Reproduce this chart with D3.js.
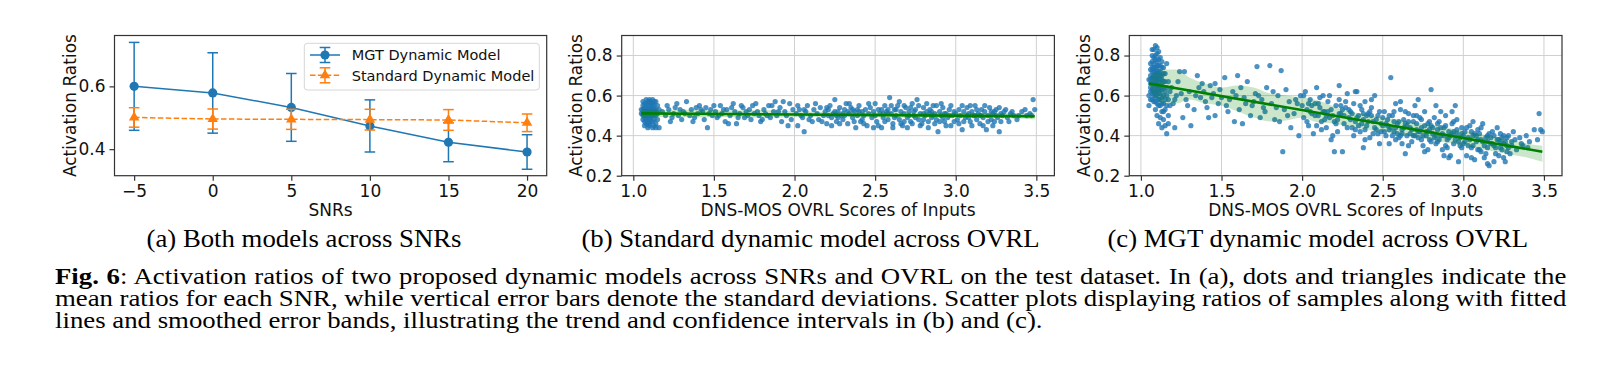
<!DOCTYPE html>
<html><head><meta charset="utf-8">
<script src="https://cdn.jsdelivr.net/npm/d3@7"></script>
<style>body{margin:0;background:#fff}svg{display:block}</style>
</head><body>
<svg id="fig" width="1621" height="380"></svg>
<script>
// ---------- data ----------
const snrs = [-5, 0, 5, 10, 15, 20];
const snrTickLabels = ["\u22125", "0", "5", "10", "15", "20"];
const mgtMean = [0.600, 0.579, 0.533, 0.474, 0.422, 0.391];
const mgtStd  = [0.140, 0.128, 0.108, 0.083, 0.062, 0.055];
const stdMean = [0.501, 0.496, 0.495, 0.494, 0.493, 0.484];
const stdStd  = [0.031, 0.032, 0.032, 0.033, 0.033, 0.028];
const seriesNames = ["MGT Dynamic Model", "Standard Dynamic Model"];
const aYTicks = [0.4, 0.6];
const ovrlTicks = [1.0, 1.5, 2.0, 2.5, 3.0, 3.5];
const ratioTicks = [0.2, 0.4, 0.6, 0.8];

// panel (b): standard dynamic model samples [OVRL, ratio]
const scatterB = [
[1.05,0.53],[1.06,0.50],[1.06,0.55],[1.07,0.47],[1.07,0.52],[1.07,0.56],[1.08,0.49],[1.08,0.51],[1.08,0.54],[1.08,0.46],
[1.09,0.53],[1.09,0.50],[1.09,0.57],[1.09,0.48],[1.10,0.52],[1.10,0.55],[1.10,0.45],[1.10,0.50],[1.10,0.58],[1.11,0.49],
[1.11,0.53],[1.11,0.56],[1.11,0.47],[1.12,0.51],[1.12,0.54],[1.12,0.44],[1.12,0.50],[1.13,0.52],[1.13,0.48],[1.13,0.55],
[1.14,0.50],[1.14,0.53],[1.14,0.46],[1.06,0.51],[1.07,0.54],[1.08,0.52],[1.09,0.55],[1.10,0.48],[1.11,0.51],[1.12,0.52],
[1.13,0.50],[1.08,0.56],[1.09,0.46],[1.10,0.53],[1.11,0.54],[1.12,0.47],[1.07,0.49],[1.06,0.48],[1.05,0.51],[1.15,0.51],
[1.15,0.55],[1.16,0.44],[1.09,0.52],[1.10,0.51],[1.11,0.50],[1.10,0.57],[1.12,0.56],[1.08,0.48],[1.13,0.45],[1.14,0.57],
[1.06,0.57],[1.07,0.45],[1.08,0.58],[1.09,0.44],[1.10,0.46],[1.11,0.57],[1.12,0.58],[1.13,0.57],[1.14,0.44],[1.07,0.51],
[1.09,0.51],[1.11,0.52],[1.13,0.53],[1.06,0.53],[1.08,0.50],[1.10,0.49],[1.12,0.53],[1.14,0.52],[1.15,0.48],[1.16,0.53],
[1.18,0.52],[1.20,0.50],[1.21,0.55],[1.23,0.47],[1.25,0.51],[1.26,0.54],[1.28,0.50],[1.29,0.53],[1.31,0.52],[1.33,0.57],
[1.35,0.50],[1.36,0.53],[1.38,0.49],[1.40,0.51],[1.41,0.55],[1.43,0.52],[1.44,0.48],[1.45,0.54],[1.46,0.44],[1.47,0.51],
[1.48,0.53],[1.49,0.50],[1.30,0.48],[1.22,0.53],[1.39,0.54],
[1.24,0.49],[1.27,0.56],[1.32,0.51],[1.37,0.47],[1.42,0.53],[1.50,0.55],[1.56,0.53],[1.59,0.46],[1.62,0.56],[1.65,0.49],
[1.68,0.54],[1.71,0.50],[1.74,0.55],[1.77,0.52],[1.80,0.48],[1.83,0.50],[1.86,0.55],[1.90,0.52],[1.93,0.57],[1.96,0.45],
[1.51,0.52],[1.52,0.49],[1.54,0.55],[1.55,0.51],[1.57,0.47],[1.58,0.53],[1.60,0.50],[1.61,0.54],[1.63,0.52],[1.64,0.46],
[1.66,0.51],[1.67,0.55],[1.69,0.49],[1.70,0.52],[1.72,0.53],[1.73,0.48],[1.75,0.51],[1.76,0.56],[1.78,0.50],[1.79,0.47],
[1.81,0.53],[1.82,0.51],[1.84,0.55],[1.85,0.49],[1.87,0.52],[1.88,0.57],[1.89,0.50],[1.91,0.54],[1.92,0.47],[1.94,0.52],
[1.95,0.50],[1.97,0.56],[1.98,0.48],[1.99,0.53],[1.53,0.50],
[2.01,0.51],[2.02,0.45],[2.03,0.53],[2.05,0.49],[2.06,0.42],[2.07,0.52],[2.08,0.55],[2.10,0.50],[2.11,0.47],[2.12,0.53],
[2.14,0.51],[2.15,0.48],[2.16,0.54],[2.18,0.50],[2.19,0.52],[2.20,0.46],[2.21,0.53],[2.22,0.55],[2.23,0.49],[2.24,0.51],
[2.25,0.58],[2.26,0.47],[2.27,0.52],[2.28,0.54],[2.29,0.50],[2.30,0.48],[2.31,0.53],[2.32,0.56],[2.33,0.46],[2.34,0.51],
[2.35,0.54],[2.36,0.49],[2.37,0.52],[2.38,0.44],[2.39,0.50],[2.40,0.55],[2.41,0.47],[2.42,0.52],[2.43,0.50],[2.44,0.53],
[2.45,0.45],[2.46,0.51],[2.47,0.54],[2.48,0.49],[2.49,0.52],[2.30,0.51],[2.36,0.53],[2.42,0.48],[2.26,0.50],[2.33,0.52],
[2.02,0.55],[2.04,0.50],[2.06,0.53],[2.09,0.48],[2.13,0.56],[2.17,0.47],[2.20,0.54],[2.23,0.45],[2.25,0.52],[2.28,0.46],
[2.31,0.50],[2.34,0.56],[2.37,0.47],[2.40,0.52],[2.43,0.46],[2.46,0.56],[2.49,0.44],[2.21,0.50],[2.27,0.49],[2.39,0.53],
[2.50,0.50],[2.51,0.47],[2.52,0.53],[2.53,0.51],[2.54,0.44],[2.55,0.49],[2.56,0.55],[2.57,0.52],[2.58,0.48],[2.59,0.59],
[2.60,0.51],[2.61,0.46],[2.62,0.53],[2.63,0.50],[2.64,0.55],[2.65,0.48],[2.66,0.52],[2.67,0.45],[2.68,0.51],[2.69,0.54],
[2.70,0.49],[2.71,0.52],[2.72,0.47],[2.73,0.56],[2.74,0.50],[2.75,0.53],[2.76,0.58],[2.77,0.48],[2.78,0.51],[2.79,0.46],
[2.80,0.54],[2.81,0.50],[2.82,0.52],[2.83,0.47],[2.84,0.53],[2.85,0.49],[2.86,0.55],[2.87,0.51],[2.88,0.48],[2.89,0.42],
[2.90,0.52],[2.91,0.50],[2.92,0.54],[2.93,0.47],[2.94,0.51],[2.95,0.49],[2.96,0.53],[2.97,0.45],[2.98,0.50],[2.99,0.52],
[2.55,0.51],[2.62,0.49],[2.68,0.47],[2.74,0.52],[2.80,0.48],[2.86,0.50],[2.92,0.49],[2.58,0.53],[2.71,0.50],[2.84,0.51],
[2.50,0.56],[2.52,0.45],[2.54,0.53],[2.56,0.47],[2.58,0.51],[2.60,0.55],[2.61,0.44],[2.63,0.53],[2.65,0.57],[2.66,0.46],
[2.68,0.55],[2.70,0.44],[2.72,0.54],[2.73,0.46],[2.75,0.49],[2.77,0.55],[2.78,0.45],[2.80,0.51],[2.82,0.56],[2.83,0.44],
[2.85,0.52],[2.87,0.46],[2.88,0.55],[2.90,0.47],[2.91,0.56],[2.93,0.51],[2.94,0.45],[2.96,0.50],[2.97,0.55],[2.99,0.47],
[3.01,0.48],[3.02,0.53],[3.03,0.50],[3.04,0.43],[3.05,0.52],[3.06,0.49],[3.07,0.54],[3.08,0.51],[3.09,0.47],[3.10,0.52],
[3.11,0.50],[3.12,0.55],[3.13,0.48],[3.14,0.51],[3.15,0.46],[3.16,0.53],[3.17,0.49],[3.18,0.52],[3.19,0.43],[3.20,0.50],
[3.21,0.54],[3.22,0.48],[3.23,0.51],[3.24,0.47],[3.25,0.53],[3.26,0.49],[3.27,0.42],[3.28,0.51],[3.29,0.50],[3.30,0.52],
[3.32,0.49],[3.34,0.51],[3.36,0.50],[3.38,0.48],[3.41,0.52],[3.44,0.50],[3.46,0.51],[3.48,0.58],[3.49,0.53],[3.08,0.49],
[3.16,0.50],[3.24,0.52],
[3.00,0.51],[3.02,0.46],[3.04,0.55],[3.05,0.47],[3.07,0.50],[3.09,0.55],[3.10,0.45],[3.12,0.50],[3.13,0.53],[3.15,0.50],
[3.17,0.45],[3.18,0.55],[3.20,0.47],[3.22,0.52],[3.23,0.45],[3.25,0.50],[3.27,0.54],[3.28,0.47],[3.31,0.53],[3.33,0.47],
[3.35,0.52],[3.39,0.50],[3.43,0.53],[3.47,0.50]
];
const fitB = [[1.05,0.511],[3.49,0.497]];
const bandBX  = [1.05,1.20,1.40,1.60,1.80,2.00,2.20,2.40,2.60,2.80,3.00,3.20,3.40,3.49];
const bandBHi = [0.535,0.527,0.530,0.525,0.528,0.522,0.519,0.518,0.517,0.515,0.514,0.513,0.512,0.515];
const bandBLo = [0.488,0.493,0.490,0.493,0.489,0.492,0.494,0.493,0.491,0.490,0.489,0.488,0.485,0.480];

// panel (c): MGT dynamic model samples [OVRL, ratio]
const scatterC = [
[1.05,0.55],[1.06,0.62],[1.06,0.70],[1.06,0.58],[1.07,0.66],[1.07,0.74],[1.07,0.61],[1.07,0.80],[1.08,0.68],[1.08,0.83],
[1.08,0.57],[1.08,0.64],[1.08,0.76],[1.09,0.71],[1.09,0.62],[1.09,0.85],[1.09,0.53],[1.09,0.67],[1.09,0.78],[1.10,0.60],
[1.10,0.73],[1.10,0.66],[1.10,0.81],[1.10,0.50],[1.10,0.69],[1.11,0.63],[1.11,0.75],[1.11,0.58],[1.11,0.70],[1.11,0.46],
[1.12,0.65],[1.12,0.72],[1.12,0.55],[1.12,0.61],[1.12,0.79],[1.13,0.68],[1.13,0.52],[1.13,0.74],[1.13,0.59],[1.13,0.44],
[1.14,0.64],[1.14,0.71],[1.14,0.56],[1.14,0.48],[1.15,0.62],[1.15,0.67],[1.15,0.45],[1.15,0.53],[1.16,0.60],[1.16,0.41],
[1.16,0.76],[1.17,0.58],[1.17,0.50],[1.06,0.66],[1.07,0.69],[1.08,0.72],[1.09,0.74],[1.10,0.63],[1.11,0.67],[1.12,0.68],
[1.08,0.60],[1.09,0.59],[1.10,0.77],[1.11,0.82],[1.07,0.77],[1.08,0.79],[1.06,0.73],[1.13,0.63],[1.14,0.60],[1.10,0.56],
[1.12,0.49],[1.09,0.65],[1.11,0.61],[1.13,0.70],
[1.05,0.60],[1.05,0.68],[1.06,0.76],[1.06,0.64],[1.07,0.72],[1.07,0.58],[1.07,0.83],[1.08,0.66],[1.08,0.74],[1.08,0.70],
[1.09,0.69],[1.09,0.80],[1.09,0.57],[1.09,0.72],[1.10,0.71],[1.10,0.65],[1.10,0.75],[1.10,0.84],[1.11,0.65],[1.11,0.72],
[1.11,0.78],[1.11,0.55],[1.12,0.63],[1.12,0.75],[1.12,0.58],[1.13,0.66],[1.13,0.77],[1.13,0.56],[1.14,0.67],[1.14,0.74],
[1.14,0.52],[1.15,0.58],[1.15,0.71],[1.16,0.64],[1.16,0.55],[1.17,0.67],[1.17,0.46],[1.18,0.62],[1.18,0.55],[1.07,0.63],
[1.08,0.62],[1.09,0.61],[1.10,0.68],[1.12,0.70],[1.06,0.68],
[1.19,0.64],[1.20,0.56],[1.21,0.44],[1.22,0.60],[1.23,0.67],[1.24,0.72],[1.25,0.61],[1.26,0.49],[1.27,0.72],[1.28,0.58],
[1.30,0.62],[1.31,0.45],[1.33,0.53],[1.35,0.70],[1.36,0.64],[1.37,0.59],[1.39,0.62],[1.40,0.57],[1.42,0.49],[1.43,0.65],
[1.45,0.61],[1.46,0.50],[1.48,0.56],[1.50,0.59],[1.52,0.69],[1.53,0.55],[1.55,0.58],[1.57,0.62],[1.58,0.47],[1.60,0.70],
[1.61,0.53],[1.63,0.46],[1.64,0.59],[1.66,0.67],[1.68,0.50],[1.69,0.55],[1.71,0.61],[1.72,0.745],[1.74,0.49],[1.75,0.58],
[1.77,0.52],[1.78,0.64],[1.80,0.75],[1.81,0.56],[1.83,0.48],[1.85,0.60],[1.87,0.725],[1.88,0.32],[1.89,0.53],[1.90,0.63],
[1.92,0.57],[1.93,0.44],[1.95,0.51],[1.97,0.56],[1.98,0.40],[1.99,0.60],[1.62,0.64],[1.70,0.57],[1.84,0.54],[1.46,0.66],
[1.21,0.58],[1.29,0.55],[1.34,0.60],[1.38,0.66],[1.41,0.54],[1.44,0.59],[1.49,0.63],[1.54,0.52],[1.59,0.60],[1.65,0.56],
[1.73,0.60],[1.76,0.54],[1.82,0.62],[1.86,0.47],[1.91,0.50],[1.96,0.58],
[2.00,0.55],[2.01,0.49],[2.02,0.62],[2.03,0.53],[2.04,0.45],[2.05,0.58],[2.06,0.51],[2.07,0.41],[2.08,0.56],[2.09,0.64],
[2.10,0.50],[2.11,0.54],[2.12,0.47],[2.13,0.60],[2.14,0.52],[2.15,0.44],[2.16,0.57],[2.17,0.49],[2.18,0.53],[2.19,0.40],
[2.20,0.32],[2.21,0.55],[2.22,0.48],[2.23,0.58],[2.24,0.51],[2.25,0.32],[2.26,0.46],[2.27,0.54],[2.28,0.61],[2.29,0.49],
[2.30,0.52],[2.31,0.44],[2.32,0.56],[2.33,0.47],[2.34,0.62],[2.35,0.50],[2.36,0.42],[2.37,0.53],[2.38,0.48],[2.39,0.57],
[2.40,0.45],[2.41,0.51],[2.42,0.39],[2.43,0.54],[2.44,0.47],[2.45,0.60],[2.46,0.43],[2.47,0.50],[2.48,0.36],[2.49,0.46],
[2.05,0.52],[2.10,0.56],[2.15,0.50],[2.20,0.47],[2.25,0.53],[2.30,0.48],[2.35,0.45],[2.40,0.50],[2.45,0.44],[2.12,0.43],
[2.22,0.42],[2.32,0.40],[2.42,0.52],[2.27,0.57],[2.37,0.46],[2.47,0.41],[2.18,0.38],[2.38,0.34],
[2.01,0.60],[2.03,0.47],[2.04,0.56],[2.06,0.55],[2.08,0.50],[2.09,0.45],[2.11,0.59],[2.13,0.52],[2.14,0.48],[2.16,0.52],
[2.17,0.60],[2.19,0.50],[2.21,0.46],[2.23,0.51],[2.24,0.55],[2.26,0.50],[2.28,0.44],[2.29,0.53],[2.31,0.51],[2.33,0.43],
[2.34,0.49],[2.36,0.55],[2.38,0.51],[2.39,0.43],[2.41,0.47],[2.43,0.50],[2.44,0.41],[2.46,0.48],[2.48,0.52],[2.49,0.42],
[2.23,0.65],[2.43,0.58],[2.33,0.62],[2.39,0.38],
[2.50,0.45],[2.51,0.52],[2.52,0.40],[2.53,0.48],[2.54,0.36],[2.55,0.69],[2.55,0.44],[2.56,0.50],[2.57,0.42],[2.58,0.56],
[2.59,0.46],[2.60,0.39],[2.61,0.53],[2.62,0.43],[2.63,0.48],[2.64,0.31],[2.65,0.45],[2.66,0.51],[2.67,0.41],[2.68,0.37],
[2.69,0.47],[2.70,0.55],[2.71,0.43],[2.72,0.39],[2.73,0.49],[2.74,0.44],[2.75,0.35],[2.76,0.52],[2.77,0.42],[2.78,0.46],
[2.79,0.38],[2.80,0.63],[2.80,0.45],[2.81,0.41],[2.82,0.49],[2.83,0.36],[2.84,0.43],[2.85,0.47],[2.86,0.40],[2.87,0.33],
[2.88,0.44],[2.89,0.50],[2.90,0.38],[2.91,0.42],[2.92,0.30],[2.93,0.46],[2.94,0.36],[2.95,0.55],[2.96,0.41],[2.97,0.27],
[2.98,0.39],[2.99,0.44],[2.52,0.46],[2.57,0.47],[2.62,0.41],[2.67,0.44],[2.72,0.42],[2.77,0.40],[2.82,0.39],[2.87,0.41],
[2.92,0.40],[2.97,0.37],[2.54,0.43],[2.59,0.41],[2.64,0.46],[2.69,0.40],[2.74,0.38],[2.79,0.43],[2.84,0.37],[2.89,0.35],
[2.94,0.42],[2.99,0.34],[2.61,0.57],[2.71,0.50],[2.86,0.52],[2.66,0.35],[2.76,0.32],[2.91,0.29],[2.96,0.48],[2.58,0.38],
[2.50,0.49],[2.51,0.42],[2.53,0.45],[2.54,0.50],[2.56,0.40],[2.57,0.52],[2.58,0.44],[2.60,0.47],[2.61,0.40],[2.63,0.44],
[2.64,0.52],[2.65,0.40],[2.66,0.47],[2.68,0.43],[2.69,0.50],[2.70,0.40],[2.71,0.46],[2.73,0.42],[2.74,0.48],[2.75,0.40],
[2.76,0.45],[2.78,0.42],[2.79,0.47],[2.80,0.37],[2.81,0.44],[2.83,0.40],[2.84,0.46],[2.85,0.38],[2.86,0.44],[2.88,0.40],
[2.89,0.45],[2.90,0.34],[2.91,0.39],[2.93,0.41],[2.94,0.47],[2.95,0.38],[2.96,0.43],[2.98,0.35],[2.99,0.41],[2.72,0.58],
[2.83,0.55],[2.93,0.52],[2.62,0.36],[2.78,0.33],[2.88,0.30],
[3.00,0.36],[3.01,0.42],[3.02,0.30],[3.03,0.39],[3.04,0.45],[3.05,0.34],[3.06,0.40],[3.07,0.28],[3.08,0.37],[3.09,0.43],
[3.10,0.33],[3.11,0.38],[3.12,0.46],[3.13,0.35],[3.14,0.31],[3.15,0.40],[3.16,0.25],[3.17,0.36],[3.18,0.42],[3.19,0.27],
[3.20,0.34],[3.21,0.38],[3.22,0.30],[3.23,0.41],[3.24,0.33],[3.25,0.36],[3.26,0.27],[3.27,0.39],[3.28,0.34],[3.29,0.31],
[3.30,0.37],[3.31,0.42],[3.33,0.33],[3.35,0.39],[3.37,0.35],[3.39,0.40],[3.41,0.37],[3.44,0.43],[3.46,0.38],[3.47,0.51],
[3.48,0.43],[3.49,0.42],[3.03,0.35],[3.07,0.41],[3.11,0.32],[3.15,0.37],[3.19,0.35],[3.23,0.37],[3.27,0.35],[3.06,0.47],
[3.13,0.29],[3.21,0.44],[3.09,0.38],[3.17,0.39],[3.25,0.40],
[3.00,0.40],[3.01,0.37],[3.02,0.44],[3.04,0.38],[3.05,0.42],[3.06,0.35],[3.08,0.40],[3.09,0.33],[3.10,0.41],[3.11,0.44],
[3.12,0.37],[3.14,0.39],[3.15,0.34],[3.16,0.41],[3.18,0.36],[3.19,0.40],[3.20,0.31],[3.22,0.38],[3.23,0.34],[3.24,0.39],
[3.26,0.37],[3.27,0.32],[3.28,0.40],[3.30,0.35],[3.32,0.38],[3.36,0.36],[3.40,0.34],[3.15,0.26],[3.05,0.29],[3.25,0.29]
];
const fitC = [[1.05,0.660],[3.49,0.320]];
const bandCX  = [1.06,1.14,1.22,1.30,1.40,1.50,1.60,1.70,1.80,1.90,2.00,2.10,2.20,2.30,2.40,2.50,2.60,2.70,2.80,2.90,3.00,3.10,3.20,3.30,3.40,3.49];
const bandCHi = [0.700,0.730,0.730,0.690,0.660,0.640,0.650,0.640,0.610,0.600,0.590,0.575,0.545,0.520,0.505,0.490,0.480,0.465,0.455,0.440,0.425,0.410,0.395,0.380,0.360,0.350];
const bandCLo = [0.620,0.560,0.560,0.580,0.560,0.550,0.520,0.490,0.470,0.475,0.490,0.465,0.460,0.445,0.430,0.420,0.405,0.395,0.380,0.365,0.350,0.335,0.320,0.305,0.290,0.270];

const subTitles = ["(a) Both models across SNRs", "(b) Standard dynamic model across OVRL", "(c) MGT dynamic model across OVRL"];
const captionLines = [
  ["Fig. 6", ": Activation ratios of two proposed dynamic models across SNRs and OVRL on the test dataset. In (a), dots and triangles indicate the"],
  ["", "mean ratios for each SNR, while vertical error bars denote the standard deviations. Scatter plots displaying ratios of samples along with fitted"],
  ["", "lines and smoothed error bands, illustrating the trend and confidence intervals in (b) and (c)."]
];

// ---------- drawing ----------
const svg = d3.select("#fig");
const SANS = "'DejaVu Sans', sans-serif";
const SERIF = "'Liberation Serif', 'Times New Roman', serif";
const BLUE = "#1f77b4", ORANGE = "#ff7f0e", GREEN = "#008000";
const FS = 17;
const TOP = 35.5, BOT = 175.7;

function frame(g, x, y, xt, xlab, yt, ylab, grid, xTitle, yTitleX) {
  const [x0, x1] = x.range();
  if (grid) {
    g.append("g").selectAll("line").data(xt).join("line")
      .attr("x1", d => x(d)).attr("x2", d => x(d)).attr("y1", TOP).attr("y2", BOT)
      .attr("stroke", "#d0d0d0").attr("stroke-width", 1);
    g.append("g").selectAll("line").data(yt).join("line")
      .attr("x1", x0).attr("x2", x1).attr("y1", d => y(d)).attr("y2", d => y(d))
      .attr("stroke", "#d0d0d0").attr("stroke-width", 1);
  }
  return function finish() {
    g.append("rect").attr("x", x0).attr("y", TOP).attr("width", x1 - x0).attr("height", BOT - TOP)
      .attr("fill", "none").attr("stroke", "#333").attr("stroke-width", 1.2);
    const xa = d3.axisBottom(x).tickValues(xt).tickFormat((d, i) => xlab[i]).tickSize(5).tickPadding(4);
    const ga = g.append("g").attr("transform", `translate(0,${BOT})`).call(xa);
    const ya = d3.axisLeft(y).tickValues(yt).tickFormat((d, i) => ylab[i]).tickSize(5).tickPadding(4);
    const gy = g.append("g").attr("transform", `translate(${x0},0)`).call(ya);
    [ga, gy].forEach(a => {
      a.select(".domain").remove();
      a.selectAll(".tick line").attr("stroke", "#333").attr("stroke-width", 1.2);
      a.selectAll(".tick text").attr("fill", "#111").style("font-family", SANS).style("font-size", FS + "px");
    });
    g.append("text").attr("x", (x0 + x1) / 2).attr("y", 215.5).attr("text-anchor", "middle")
      .style("font-family", SANS).style("font-size", FS + "px").attr("fill", "#111").text(xTitle);
    g.append("text").attr("transform", `translate(${yTitleX},${(TOP + BOT) / 2}) rotate(-90)`)
      .attr("text-anchor", "middle").attr("dy", "0.36em")
      .style("font-family", SANS).style("font-size", FS + "px").attr("fill", "#111").text("Activation Ratios");
  };
}

// ----- panel (a) -----
const xA = d3.scaleLinear().domain([-6.25, 21.25]).range([114.5, 546.7]);
const yA = d3.scaleLinear().domain([0.3155, 0.762]).range([BOT, TOP]);
const gA = svg.append("g");
const finA = frame(gA, xA, yA, snrs, snrTickLabels, aYTicks, aYTicks.map(d => d.toFixed(1)), false, "SNRs", 69.5);

const CAP = 5.3;
function drawMarker(g, marker, cx, cy, color) {
  if (marker === "circle") {
    g.append("circle").attr("cx", cx).attr("cy", cy).attr("r", 4.6).attr("fill", color);
  } else {
    g.append("path").attr("d", d3.symbol(d3.symbolTriangle, 48)()).attr("transform", `translate(${cx},${cy})`).attr("fill", color);
  }
}
function errSeries(g, means, stds, color, dashed, marker) {
  const pts = snrs.map((s, i) => ({x: s, m: means[i], s: stds[i]}));
  g.append("path").datum(pts)
    .attr("d", d3.line().x(d => xA(d.x)).y(d => yA(d.m)))
    .attr("fill", "none").attr("stroke", color).attr("stroke-width", 1.5)
    .attr("stroke-dasharray", dashed ? "5.5,2.4" : null);
  const eb = g.append("g").attr("stroke", color).attr("stroke-width", 1.5);
  pts.forEach(d => {
    eb.append("line").attr("x1", xA(d.x)).attr("x2", xA(d.x)).attr("y1", yA(d.m - d.s)).attr("y2", yA(d.m + d.s));
    eb.append("line").attr("x1", xA(d.x) - CAP).attr("x2", xA(d.x) + CAP).attr("y1", yA(d.m - d.s)).attr("y2", yA(d.m - d.s));
    eb.append("line").attr("x1", xA(d.x) - CAP).attr("x2", xA(d.x) + CAP).attr("y1", yA(d.m + d.s)).attr("y2", yA(d.m + d.s));
  });
  pts.forEach(d => drawMarker(g, marker, xA(d.x), yA(d.m), color));
}
errSeries(gA, mgtMean, mgtStd, BLUE, false, "circle");
errSeries(gA, stdMean, stdStd, ORANGE, true, "triangle");

// legend
const leg = gA.append("g");
leg.append("rect").attr("x", 304.3).attr("y", 43.3).attr("width", 235).attr("height", 46.7).attr("rx", 3)
  .attr("fill", "#fff").attr("fill-opacity", 0.8).attr("stroke", "#d6d6d6").attr("stroke-width", 1);
[[BLUE, false, "circle", 55], [ORANGE, true, "triangle", 75.3]].forEach((e, i) => {
  const [c, dashed, mk, ly] = e;
  leg.append("line").attr("x1", 310).attr("x2", 340).attr("y1", ly).attr("y2", ly)
    .attr("stroke", c).attr("stroke-width", 1.5).attr("stroke-dasharray", dashed ? "5.5,2.4" : null);
  leg.append("line").attr("x1", 325).attr("x2", 325).attr("y1", ly - 7.5).attr("y2", ly + 7.5).attr("stroke", c).attr("stroke-width", 1.5);
  leg.append("line").attr("x1", 325 - CAP).attr("x2", 325 + CAP).attr("y1", ly - 7.5).attr("y2", ly - 7.5).attr("stroke", c).attr("stroke-width", 1.5);
  leg.append("line").attr("x1", 325 - CAP).attr("x2", 325 + CAP).attr("y1", ly + 7.5).attr("y2", ly + 7.5).attr("stroke", c).attr("stroke-width", 1.5);
  drawMarker(leg, mk, 325, ly, c);
  leg.append("text").attr("x", 351.7).attr("y", ly).attr("dy", "0.36em")
    .style("font-family", SANS).style("font-size", "14.5px").attr("fill", "#111").text(seriesNames[i]);
});
finA();

// ----- panels (b) and (c) -----
const yS = d3.scaleLinear().domain([0.2, 0.9]).range([BOT, TOP]);
function scatterPanel(x, pts, fit, bx, bhi, blo, yTitleX) {
  const g = svg.append("g");
  const fin = frame(g, x, yS, ovrlTicks, ovrlTicks.map(d => d.toFixed(1)), ratioTicks, ratioTicks.map(d => d.toFixed(1)), true,
    "DNS-MOS OVRL Scores of Inputs", yTitleX);
  g.append("g").selectAll("circle").data(pts).join("circle")
    .attr("cx", d => x(d[0])).attr("cy", d => yS(d[1])).attr("r", 2.6)
    .attr("fill", BLUE).attr("fill-opacity", 0.8);
  const band = bx.map((v, i) => ({x: v, hi: bhi[i], lo: blo[i]}));
  g.append("path").datum(band)
    .attr("d", d3.area().curve(d3.curveMonotoneX).x(d => x(d.x)).y0(d => yS(d.lo)).y1(d => yS(d.hi)))
    .attr("fill", GREEN).attr("fill-opacity", 0.2);
  g.append("path").datum(fit)
    .attr("d", d3.line().x(d => x(d[0])).y(d => yS(d[1])))
    .attr("stroke", GREEN).attr("stroke-width", 2.6).attr("fill", "none");
  fin();
}
const xB = d3.scaleLinear().domain([0.928, 3.612]).range([621.7, 1054.4]);
const xC = d3.scaleLinear().domain([0.928, 3.612]).range([1129.3, 1562]);
scatterPanel(xB, scatterB, fitB, bandBX, bandBHi, bandBLo, 576);
scatterPanel(xC, scatterC, fitC, bandCX, bandCHi, bandCLo, 1084);

// ----- sub-captions and caption: glyph height set by font size, width fitted by a horizontal scale -----
function measure(str, fs, bold) {
  const t = svg.append("text").style("font-family", SERIF).style("font-size", fs + "px")
    .attr("font-weight", bold ? "bold" : null).text(str);
  const w = t.node().getComputedTextLength();
  t.remove();
  return w;
}
const SUB_FS = 25, CAP_FS = 23.5;
const subPos = [[146, 462], [582, 1039], [1107, 1528.5]];
const subK = d3.mean(subTitles, (t, i) => (subPos[i][1] - subPos[i][0]) / measure(t, SUB_FS));
subTitles.forEach((t, i) => {
  svg.append("g").attr("transform", `translate(${(subPos[i][0] + subPos[i][1]) / 2},246.5) scale(${subK},1)`)
    .append("text").attr("text-anchor", "middle")
    .style("font-family", SERIF).style("font-size", SUB_FS + "px").attr("fill", "#000").text(t);
});
const capStart = 55;
const capEnds = [1567, 1567, 1043];
const capBase = [283.5, 305.5, 327.5];
const capK = (capEnds[2] - capStart) / measure(captionLines[2][1], CAP_FS);
captionLines.forEach((ln, i) => {
  const natural = (ln[0] ? measure(ln[0], CAP_FS, true) : 0) + measure(ln[1], CAP_FS, false);
  const spaces = (ln[0] + ln[1]).split(" ").length - 1;
  const ws = i < 2 ? ((capEnds[i] - capStart) / capK - natural) / spaces : 0;
  const t = svg.append("g").attr("transform", `translate(${capStart},${capBase[i]}) scale(${capK},1)`)
    .append("text").attr("x", 0).attr("y", 0)
    .style("font-family", SERIF).style("font-size", CAP_FS + "px").style("word-spacing", ws + "px").attr("fill", "#000");
  if (ln[0]) t.append("tspan").attr("font-weight", "bold").text(ln[0]);
  t.append("tspan").text(ln[1]);
});
</script>
</body></html>
